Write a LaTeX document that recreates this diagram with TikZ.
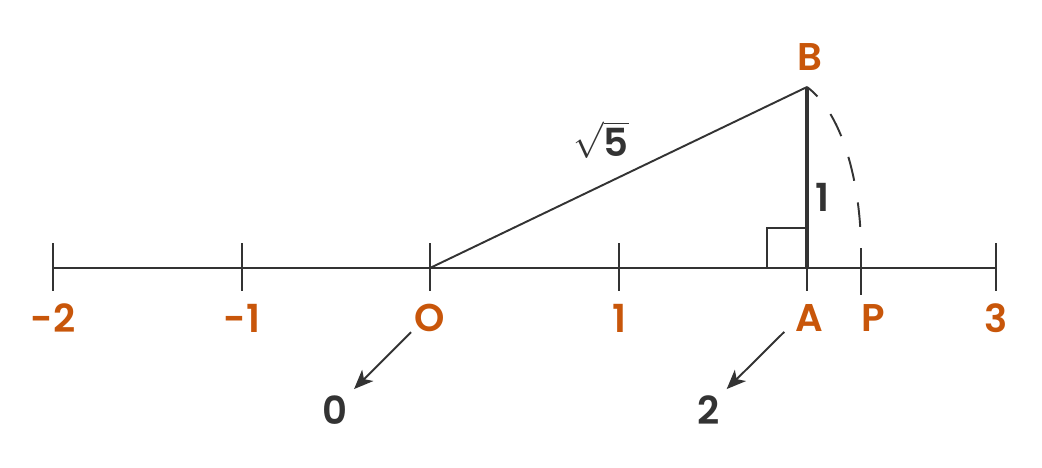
\documentclass[tikz,border=0pt]{standalone}
\usepackage{fontspec}
\setmainfont{Poppins SemiBold}
\usepackage{tikz}
\usetikzlibrary{arrows.meta}
\usetikzlibrary{positioning}
\definecolor{numorange}{HTML}{C8560A}
\definecolor{ink}{HTML}{333333}

\begin{document}
\begin{tikzpicture}[x=0.02cm,y=-0.02cm,
		lbl/.style={inner sep=0pt,font=\fontsize{22}{26}\selectfont,text=numorange},
		val/.style={inner sep=0pt,font=\fontsize{22}{26}\selectfont,text=ink},
		axis/.style={draw=ink,line width=1.1pt},
		pointer/.style={draw=ink,line width=1.1pt,-{Stealth[length=11pt,width=9pt,inset=3pt]},shorten >=5pt},
		arcdash/.style={draw=ink,line width=1.1pt,dash pattern=on 14pt off 12.5pt,dash phase=6pt}]
		
		\useasboundingbox (0,0) rectangle (1042,467);
		
		% number line
		\coordinate (m2) at (53,268);
		\coordinate (m1) at (242,268);
		\coordinate (O) at (430,268);
		\coordinate (one) at (619,268);
		\coordinate (A) at (807,268);
		\coordinate (P) at (861,268);
		\coordinate (three) at (996,268);
		\coordinate (B) at (807,87);
		\coordinate (Ptop) at (861,250);
		\draw[axis] (m2) -- (three);
		\foreach \t in {m2,m1,O,one,A,three}
		\draw[axis] (\t) ++(0,-25) -- ++(0,48);
		\draw[axis] (P) ++(0,-20) -- ++(0,47);
		
		\node[lbl] (lm2) at (53,318) {-2};
		\node[lbl] (lm1) at (242,318) {-1};
		\node[lbl] (lO) at (430,318) {O};
		\node[lbl] (lone) at (619,318) {1};
		\node[lbl] (lA) at (809,318) {A};
		\node[lbl] (lP) at (873,318) {P};
		\node[lbl] (lthree) at (996,318) {3};
		\node[lbl] (lB) at (810,57) {B};
		
		% triangle
		\draw[draw=ink,line width=1.1pt] (O) -- (B);
		\draw[draw=ink,line width=0.9pt] (A) rectangle ++(-40,-40);
		\draw[draw=ink,line width=2.3pt] (A) -- (B);
		\node[val] (side) at (822,197) {1};
		\node[val] (hyp) at (601,140) {$\sqrt{\mbox{5}}$};
		
		% arc
		\draw[arcdash] (B) .. controls (845,115) and (861,190) .. (Ptop);
		
		% values
		\node[val] (zero) at (335,410) {0};
		\node[val] (two) at (709,410) {2};
		\draw[pointer] ([xshift=-2pt]lO.south west) -- (zero.north east);
		\draw[pointer] ([xshift=-6pt]lA.south west) -- (two.north east);
		
\end{tikzpicture}
\end{document}
